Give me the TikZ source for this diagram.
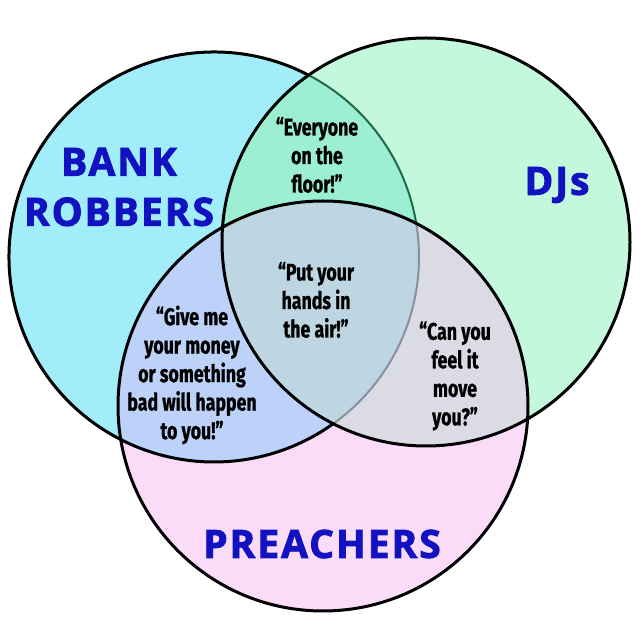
\documentclass[tikz,border=0pt]{standalone}
\usepackage{fontspec}
\setmainfont{Fira Sans}
\newfontfamily\quotefont[FakeStretch=0.74, FakeBold=0.9]{Fira Sans}
\newfontfamily\setfont[LetterSpace=5, FakeBold=2.2]{Open Sans}

\definecolor{robbercyan}{HTML}{A2EDFA}
\definecolor{djmint}{HTML}{C4F8DD}
\definecolor{preachpink}{HTML}{FBDCF8}
\definecolor{floorteal}{HTML}{9DEFD4}
\definecolor{moneyblue}{HTML}{BCD2F8}
\definecolor{movegrey}{HTML}{DBDBE6}
\definecolor{airblue}{HTML}{BDD6E2}
\definecolor{arcgreen}{HTML}{1F6A4A}
\definecolor{arcgrey}{HTML}{8A8FA0}
\definecolor{setblue}{HTML}{1212C0}

\tikzset{
  rim/.style={line width=3pt, draw=black},
  innerarc/.style={line width=2pt},
  quote/.style={font=\quotefont\bfseries\fontsize{24}{28.5}\selectfont, align=center, text=black},
  setname/.style={font=\setfont\bfseries\fontsize{39}{50}\selectfont, align=center, text=setblue}
}

\begin{document}
\begin{tikzpicture}[x=1pt,y=1pt]

    \useasboundingbox (0,0) rectangle (640,640);
    \fill [white] (0,0) rectangle (640,640);

    \coordinate (Lc) at (214,383);
    \coordinate (Rc) at (426,398);
    \coordinate (Bc) at (323,234);

    % discs
    \fill [robbercyan] (Lc) circle (205);
    \fill [djmint] (Rc) circle (204);
    \fill [preachpink] (Bc) circle (205);

    % overlaps
    \begin{scope}
        \clip (Lc) circle (205);
        \fill [floorteal] (Rc) circle (204);
        \fill [moneyblue] (Bc) circle (205);
    \end{scope}
    \begin{scope}
        \clip (Rc) circle (204);
        \fill [movegrey] (Bc) circle (205);
    \end{scope}
    \begin{scope}
        \clip (Lc) circle (205);
        \clip (Rc) circle (204);
        \fill [airblue] (Bc) circle (205);
    \end{scope}

    % outlines
    \draw [innerarc, arcgreen] ([shift={(9.4:205)}]Lc) arc (9.4:62.8:205);
    \draw [innerarc, arcgrey] ([shift={(-54.7:205)}]Lc) arc (-54.7:9.4:205);
    \draw [rim] ([shift={(62.8:205)}]Lc) arc (62.8:305.3:205);
    \draw [rim] (Rc) circle (204);
    \draw [rim] (Bc) circle (205);

    \node [setname] (robbers) at (119,453) {BANK\\ROBBERS};
    \node [setname] (djs) at (557,455) {DJs};
    \node [setname] (preachers) at (322,96) {PREACHERS};

    \node [quote] (q-floor) at (317,485) {“Everyone\\on the\\floor!”};
    \node [quote] (q-air) at (316,340) {“Put your\\hands in\\the air!”};
    \node [quote] (q-money) at (192,265) {“Give me\\your money\\or something\\bad will happen\\to you!”};
    \node [quote] (q-move) at (455,264) {“Can you\\feel it\\move\\you?”};

\end{tikzpicture}
\end{document}
